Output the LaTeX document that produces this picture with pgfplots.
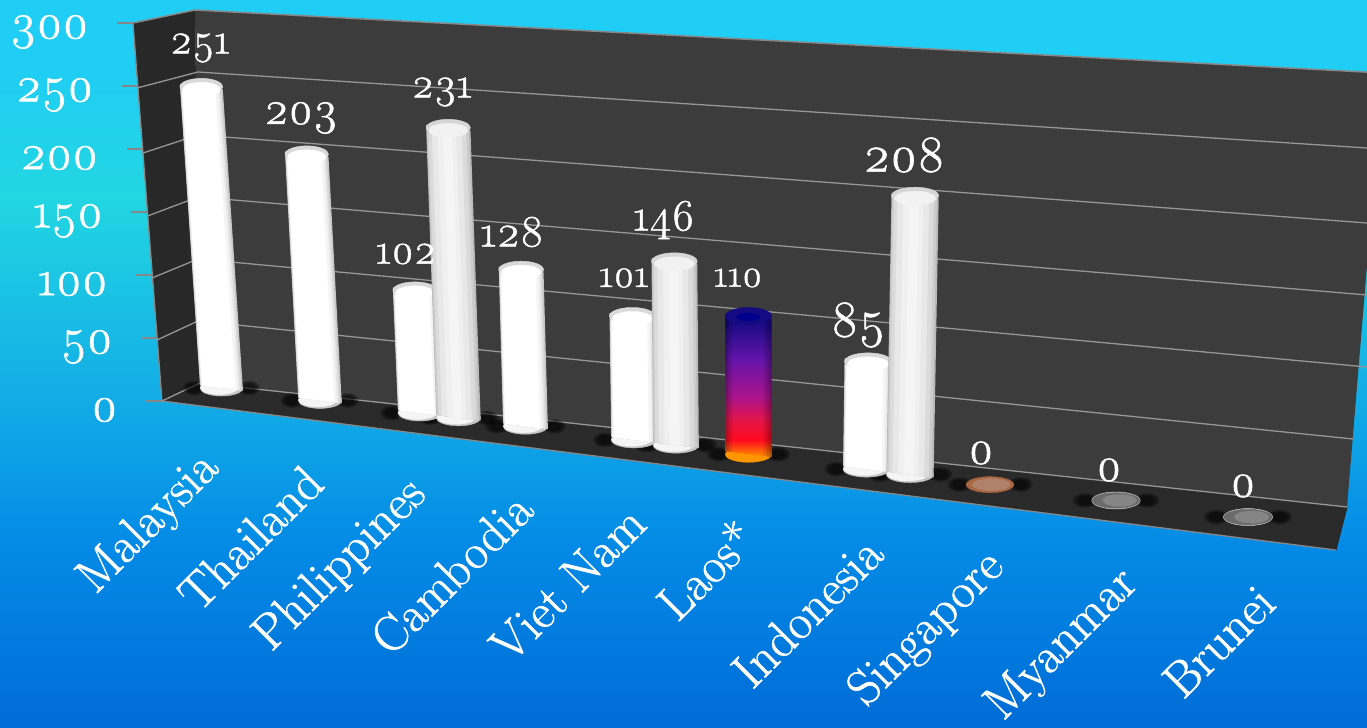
\documentclass[border=0pt]{standalone}
\usepackage{fontspec}
\setmainfont{Latin Modern Roman}[Numbers=OldStyle,FakeBold=1.1]
\usepackage{pgfplots}
\pgfplotsset{compat=1.18}

% colours
\definecolor{backwall}{RGB}{60,60,60}
\definecolor{sidewall}{RGB}{40,40,40}
\definecolor{floorc}{RGB}{42,42,42}
\definecolor{edge}{RGB}{135,135,135}
\definecolor{gridc}{RGB}{150,150,150}

% tikz fits a shaded path into the middle 50bp of the 100bp square
\definecolor{bg0}{RGB}{0,108,215}
\definecolor{bg1}{RGB}{4,138,230}
\definecolor{bg2}{RGB}{18,172,230}
\definecolor{bg3}{RGB}{34,214,226}
\definecolor{bg4}{RGB}{32,205,245}
\pgfdeclareverticalshading{bgfade}{100bp}{
  color(0bp)=(bg0); color(25bp)=(bg0); color(37.5bp)=(bg1); color(47.5bp)=(bg2);
  color(61.5bp)=(bg3); color(71bp)=(bg4); color(100bp)=(bg4)}

\definecolor{la0}{RGB}{255,150,0}
\definecolor{la1}{RGB}{255,10,30}
\definecolor{la2}{RGB}{230,20,70}
\definecolor{la3}{RGB}{170,20,140}
\definecolor{la4}{RGB}{100,20,170}
\definecolor{la5}{RGB}{20,10,130}
\pgfdeclareverticalshading{laosv}{100bp}{
  color(0bp)=(la0); color(25bp)=(la0); color(31bp)=(la1); color(37.5bp)=(la2);
  color(46bp)=(la3); color(59bp)=(la4); color(72.5bp)=(la5); color(100bp)=(la5)}

\pgfdeclareplotmark{capW}{
  \fill[gray!30] (0bp,0bp) ellipse [x radius=1bp,y radius=8.5bp];
  \fill[white] (0bp,-2.5bp) ellipse [x radius=.88bp,y radius=7bp];}
\pgfdeclareplotmark{capG}{
  \fill[gray!32] (0bp,0bp) ellipse [x radius=1bp,y radius=8.5bp];
  \fill[gray!10] (0bp,-2.5bp) ellipse [x radius=.88bp,y radius=7bp];}
\pgfdeclareplotmark{capL}{
  \fill[la5] (0bp,0bp) ellipse [x radius=1bp,y radius=8.5bp];
  \fill[blue!55!black] (0bp,-1bp) ellipse [x radius=.5bp,y radius=4bp];}
\pgfdeclareplotmark{foot}{
  \foreach \r/\h in {.5/7,.42/6,.34/5,.26/4}{
    \fill[black,opacity=.22] (-1.28bp,0bp) ellipse [x radius=\r bp,y radius=\h bp];
    \fill[black,opacity=.22] (1.28bp,0bp) ellipse [x radius=\r bp,y radius=\h bp];}}
\pgfdeclareplotmark{baseW}{
  \fill[gray!45] (0bp,0bp) ellipse [x radius=1bp,y radius=8bp];
  \fill[gray!8] (-.1bp,.6bp) ellipse [x radius=.88bp,y radius=7bp];}
\pgfdeclareplotmark{baseL}{
  \fill[la0] (0bp,0bp) ellipse [x radius=1bp,y radius=8bp];}
\definecolor{zo0}{RGB}{168,102,66}
\definecolor{zo1}{RGB}{176,130,105}
\pgfdeclareplotmark{zeroO}{
  \fill[zo0] (0bp,0bp) ellipse [x radius=1bp,y radius=8bp];
  \fill[zo1] (.05bp,0bp) ellipse [x radius=.8bp,y radius=6bp];}
\pgfdeclareplotmark{zeroG}{
  \fill[gray!40] (0bp,0bp) ellipse [x radius=1bp,y radius=8.5bp];
  \fill[black!58] (0bp,0bp) ellipse [x radius=.98bp,y radius=7.8bp];
  \fill[black!48] (.15bp,0bp) ellipse [x radius=.7bp,y radius=6bp];}

% one slice of a bar, between two fractions of its half width
\newcommand\slice[3]{%
  \pgfmathsetmacro\xba{\xb+(#1)*\hw}\pgfmathsetmacro\xbb{\xb+(#2)*\hw}%
  \pgfmathsetmacro\xta{\xt+(#1)*\hw}\pgfmathsetmacro\xtb{\xt+(#2)*\hw}%
  \addplot[draw=none,#3,y filter/.expression={y*\sk}] coordinates
    {(\xba,0) (\xta,\vv) (\xtb,\vv) (\xbb,0)} --cycle;}
% foot x, value, height of one unit at that depth
\newcommand\setbar[3]{%
  \pgfmathsetmacro\xb{#1}\pgfmathsetmacro\vv{#2}%
  \pgfmathsetmacro\xt{#1+0.00015*(#1-748.5)*#2}%
  \def\sk{#3}%
  \pgfmathsetmacro\hw{21.5+0.003*(#1-221.5)}}
\newcommand\putmark[3]{% mark, x, value
  \edef\tmp{\noexpand\addplot[only marks,mark=#1,mark options={xscale=\hw},
    y filter/.expression={y*\sk}] coordinates {(#2,#3)};}\tmp}
\newcommand\footat[1]{\setbar{#1}{0}{1.2}\putmark{foot}{#1}{0}}

\newcommand\barW[3]{\setbar{#1}{#2}{#3}%
  \putmark{baseW}{\xb}{0}%
  \slice{-1}{1}{fill=gray!45}\slice{-.98}{.93}{fill=gray!30}%
  \slice{-.96}{.86}{fill=gray!18}\slice{-.93}{.78}{fill=gray!8}%
  \slice{-.9}{.65}{fill=white}%
  \putmark{capW}{\xt}{\vv}}
\newcommand\barG[3]{\setbar{#1}{#2}{#3}%
  \putmark{baseW}{\xb}{0}%
  \slice{-1}{1}{fill=gray!55}\slice{-.97}{.92}{fill=gray!40}%
  \slice{-.9}{.8}{fill=gray!28}\slice{-.75}{.6}{fill=gray!18}%
  \slice{-.5}{.35}{fill=gray!12}\slice{-.25}{.15}{fill=gray!8}%
  \putmark{capG}{\xt}{\vv}}

\newcommand\lab[3]{\node[white,font=\fontsize{#3}{#3}\selectfont] at (#1) {#2};}

\begin{document}
\begin{tikzpicture}
\path[use as bounding box,clip] (0bp,-728bp) rectangle (1367bp,0bp);

\begin{scope}[x=1bp,y=-1bp]
\shade[shading=bgfade] (0,0) rectangle (1367,728);
% walls and floor
\fill[backwall] (195,10) -- (1383,73) -- (1347,507) -- (200,383) -- cycle;
\fill[sidewall] (133,23) -- (195,10) -- (200,383) -- (162,401) -- cycle;
\fill[floorc] (162,401) -- (200,383) -- (1347,507) -- (1336,550) -- cycle;
\draw[edge,line width=1.5bp] (133,23) -- (195,10) -- (1383,73);
\draw[edge,line width=1.3bp] (133,23) -- (162,401) -- (1336,550);
\draw[sidewall,line width=1bp] (1347,507) -- (1336,550);
% grid on the walls
\foreach \a/\b/\c in {157/340/321,152/278/259,147.5/216/197,143/153/135,137/88/72}
  \draw[gridc,line width=1.3bp] (\a,\b) -- (198,\c);
\draw[gridc,line width=1.3bp] (162,401) -- (200,383) -- (1347,507);
\draw[gridc,line width=1.3bp] (198,321) -- (1353,439);
\draw[gridc,line width=1.3bp] (198,259) -- (1367,367);
\draw[gridc,line width=1.3bp] (198,197) -- (1367,295);
\draw[gridc,line width=1.3bp] (198,135) -- (1367,223);
\draw[gridc,line width=1.3bp] (198,72) -- (1367,148);
\end{scope}

% value axis along the front edge of the side wall
\begin{axis}[
    at={(162bp,-401bp)},anchor=origin,
    x={(1bp,0bp)},y={(-0.0967bp,1.26bp)},
    xmin=0,xmax=1,ymin=0,ymax=300,
    clip=false,
    axis x line=none,
    axis y line*=left,
    y axis line style={draw=none},
    ytick={0,50,100,150,200,250,300},
    ytick align=outside,
    major tick length=16bp,
    tick style={edge,line width=1.5bp},
    y tick label style={white,font=\fontsize{50}{50}\selectfont,xshift=-25bp,yshift=-9bp},
    /pgf/number format/assume math mode=true,
  ]
  \addplot[draw=none] coordinates {(0,0) (0,300)};
\end{axis}

% bars: x is the foot of each bar in the picture, y the value
\begin{axis}[
    at={(0bp,-360.2bp)},anchor=origin,
    x={(1bp,-0.1257bp)},y={(0bp,1bp)},
    xmin=0,xmax=1367,ymin=0,ymax=400,
    clip=false,clip mode=individual,
    axis line style={draw=none},
    tick style={draw=none},
    ytick=\empty,
    xtick={218,320,425,530,643,752,880,1003,1137,1272},
    xticklabels={Malaysia,Thailand,Philippines,Cambodia,Viet Nam,Laos*,Indonesia,Singapore,Myanmar,Brunei},
    x tick label style={white,rotate=45,anchor=east,xshift=-53bp,yshift=-48bp,
      font=\fontsize{50}{50}\selectfont},
  ]
  \footat{221.5}\footat{320}\footat{420}\footat{458.5}\footat{525.5}\footat{634}
  \footat{676}\footat{748.5}\footat{866.5}\footat{910}\footat{990}\footat{1116}\footat{1248}
  \barW{221.5}{251}{1.19}
  \barW{320}{203}{1.204}
  \barW{420}{102}{1.196}
  \barG{458.5}{231}{1.25}
  \barW{525.5}{128}{1.219}
  \barW{634}{101}{1.225}
  \barG{676}{146}{1.258}
  % Laos
  \setbar{748.5}{110}{1.257}
  \putmark{baseL}{\xb}{0}
  \slice{-1}{1}{shading=laosv}
  \slice{-1}{-.7}{fill=black,fill opacity=.1}
  \slice{-1}{-.85}{fill=black,fill opacity=.12}
  \slice{-1}{-.94}{fill=black,fill opacity=.12}
  \slice{.65}{1}{fill=black,fill opacity=.1}
  \slice{.8}{1}{fill=black,fill opacity=.12}
  \slice{.92}{1}{fill=black,fill opacity=.12}
  \putmark{capL}{\xt}{\vv}
  \barW{866.5}{85}{1.27}
  \barG{910}{208}{1.344}
  \setbar{990}{0}{1.2}\putmark{zeroO}{990}{0}
  \setbar{1116}{0}{1.2}\putmark{zeroG}{1116}{0}
  \setbar{1248}{0}{1.2}\putmark{zeroG}{1248}{0}
\end{axis}

% value labels
\begin{scope}[x=1bp,y=-1bp]
\lab{200,48}{251}{43}
\lab{301,118}{203}{47}
\lab{406,254}{102}{43}
\lab{442,92}{231}{43}
\lab{512,232}{128}{45}
\lab{624,278}{101}{40}
\lab{664,220}{146}{45}
\lab{738,278}{110}{39}
\lab{858,325}{85}{52}
\lab{904,155}{208}{52}
\lab{981,453}{0}{48}
\lab{1109,470}{0}{48}
\lab{1243,486}{0}{48}
\end{scope}
\end{tikzpicture}
\end{document}
